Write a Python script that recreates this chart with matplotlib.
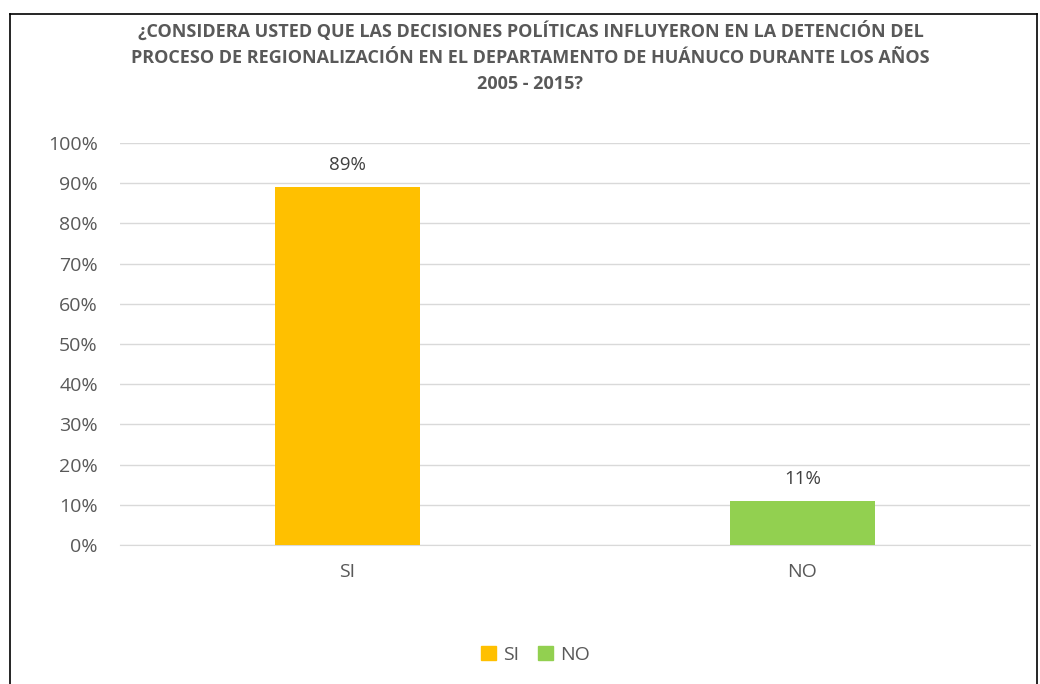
import matplotlib.pyplot as plt
import matplotlib.ticker as ticker
from matplotlib.patches import Patch
from matplotlib.lines import Line2D

categories = ["SI", "NO"]
values = [0.89, 0.11]
colors = ["#FFC000", "#92D050"]
title = ("¿CONSIDERA USTED QUE LAS DECISIONES POLÍTICAS INFLUYERON EN LA DETENCIÓN DEL\n"
         "PROCESO DE REGIONALIZACIÓN EN EL DEPARTAMENTO DE HUÁNUCO DURANTE LOS AÑOS\n"
         "2005 - 2015?")

plt.rcParams['font.family'] = ['Open Sans', 'DejaVu Sans']
txt = "#595959"

fig = plt.figure(figsize=(10.4, 6.84), dpi=100)
ax = fig.add_axes([120/1040, 1 - 545/684, 910/1040, 402/684])

x = range(len(categories))
bars = ax.bar(x, values, width=0.32, color=colors, zorder=3)
for b, v in zip(bars, values):
    ax.text(b.get_x() + b.get_width()/2, v + 0.033, "{:.0%}".format(v),
            ha="center", va="bottom", fontsize=13.5, color="#404040")

ax.set_xlim(-0.5, 1.5)
ax.set_ylim(0, 1.0)
ax.yaxis.set_major_locator(ticker.MultipleLocator(0.1))
ax.yaxis.set_major_formatter(ticker.PercentFormatter(1.0, decimals=0))
ax.set_xticks(list(x))
ax.set_xticklabels(categories)
ax.grid(axis="y", color="#d9d9d9", linewidth=1, zorder=0)
for s in ["top", "right", "left"]:
    ax.spines[s].set_visible(False)
ax.spines["bottom"].set_color("#d9d9d9")
ax.tick_params(axis="both", length=0, labelsize=14, labelcolor=txt)
ax.tick_params(axis="y", pad=16)
ax.tick_params(axis="x", pad=13)
ax.set_axisbelow(True)

fig.text(0.51, 1 - 57/684, title, ha="center", va="center", fontsize=13,
         fontweight="bold", color=txt, linespacing=1.58)

handles = [Patch(color=c, label=l) for c, l in zip(colors, categories)]
fig.legend(handles=handles, loc="center", bbox_to_anchor=(0.515, 1 - 655/684),
           ncol=2, frameon=False, fontsize=14, labelcolor=txt,
           handlelength=0.75, handleheight=0.75, handletextpad=0.35, columnspacing=1.0)

# chart border
bx0, bx1, by = 10/1040, 1037/1040, 1 - 14/684
fig.add_artist(Line2D([bx0, bx0], [0, by], color="black", linewidth=1.2))
fig.add_artist(Line2D([bx1, bx1], [0, by], color="black", linewidth=1.2))
fig.add_artist(Line2D([bx0, bx1], [by, by], color="black", linewidth=1.2))

fig.savefig("out.png", dpi=100)
